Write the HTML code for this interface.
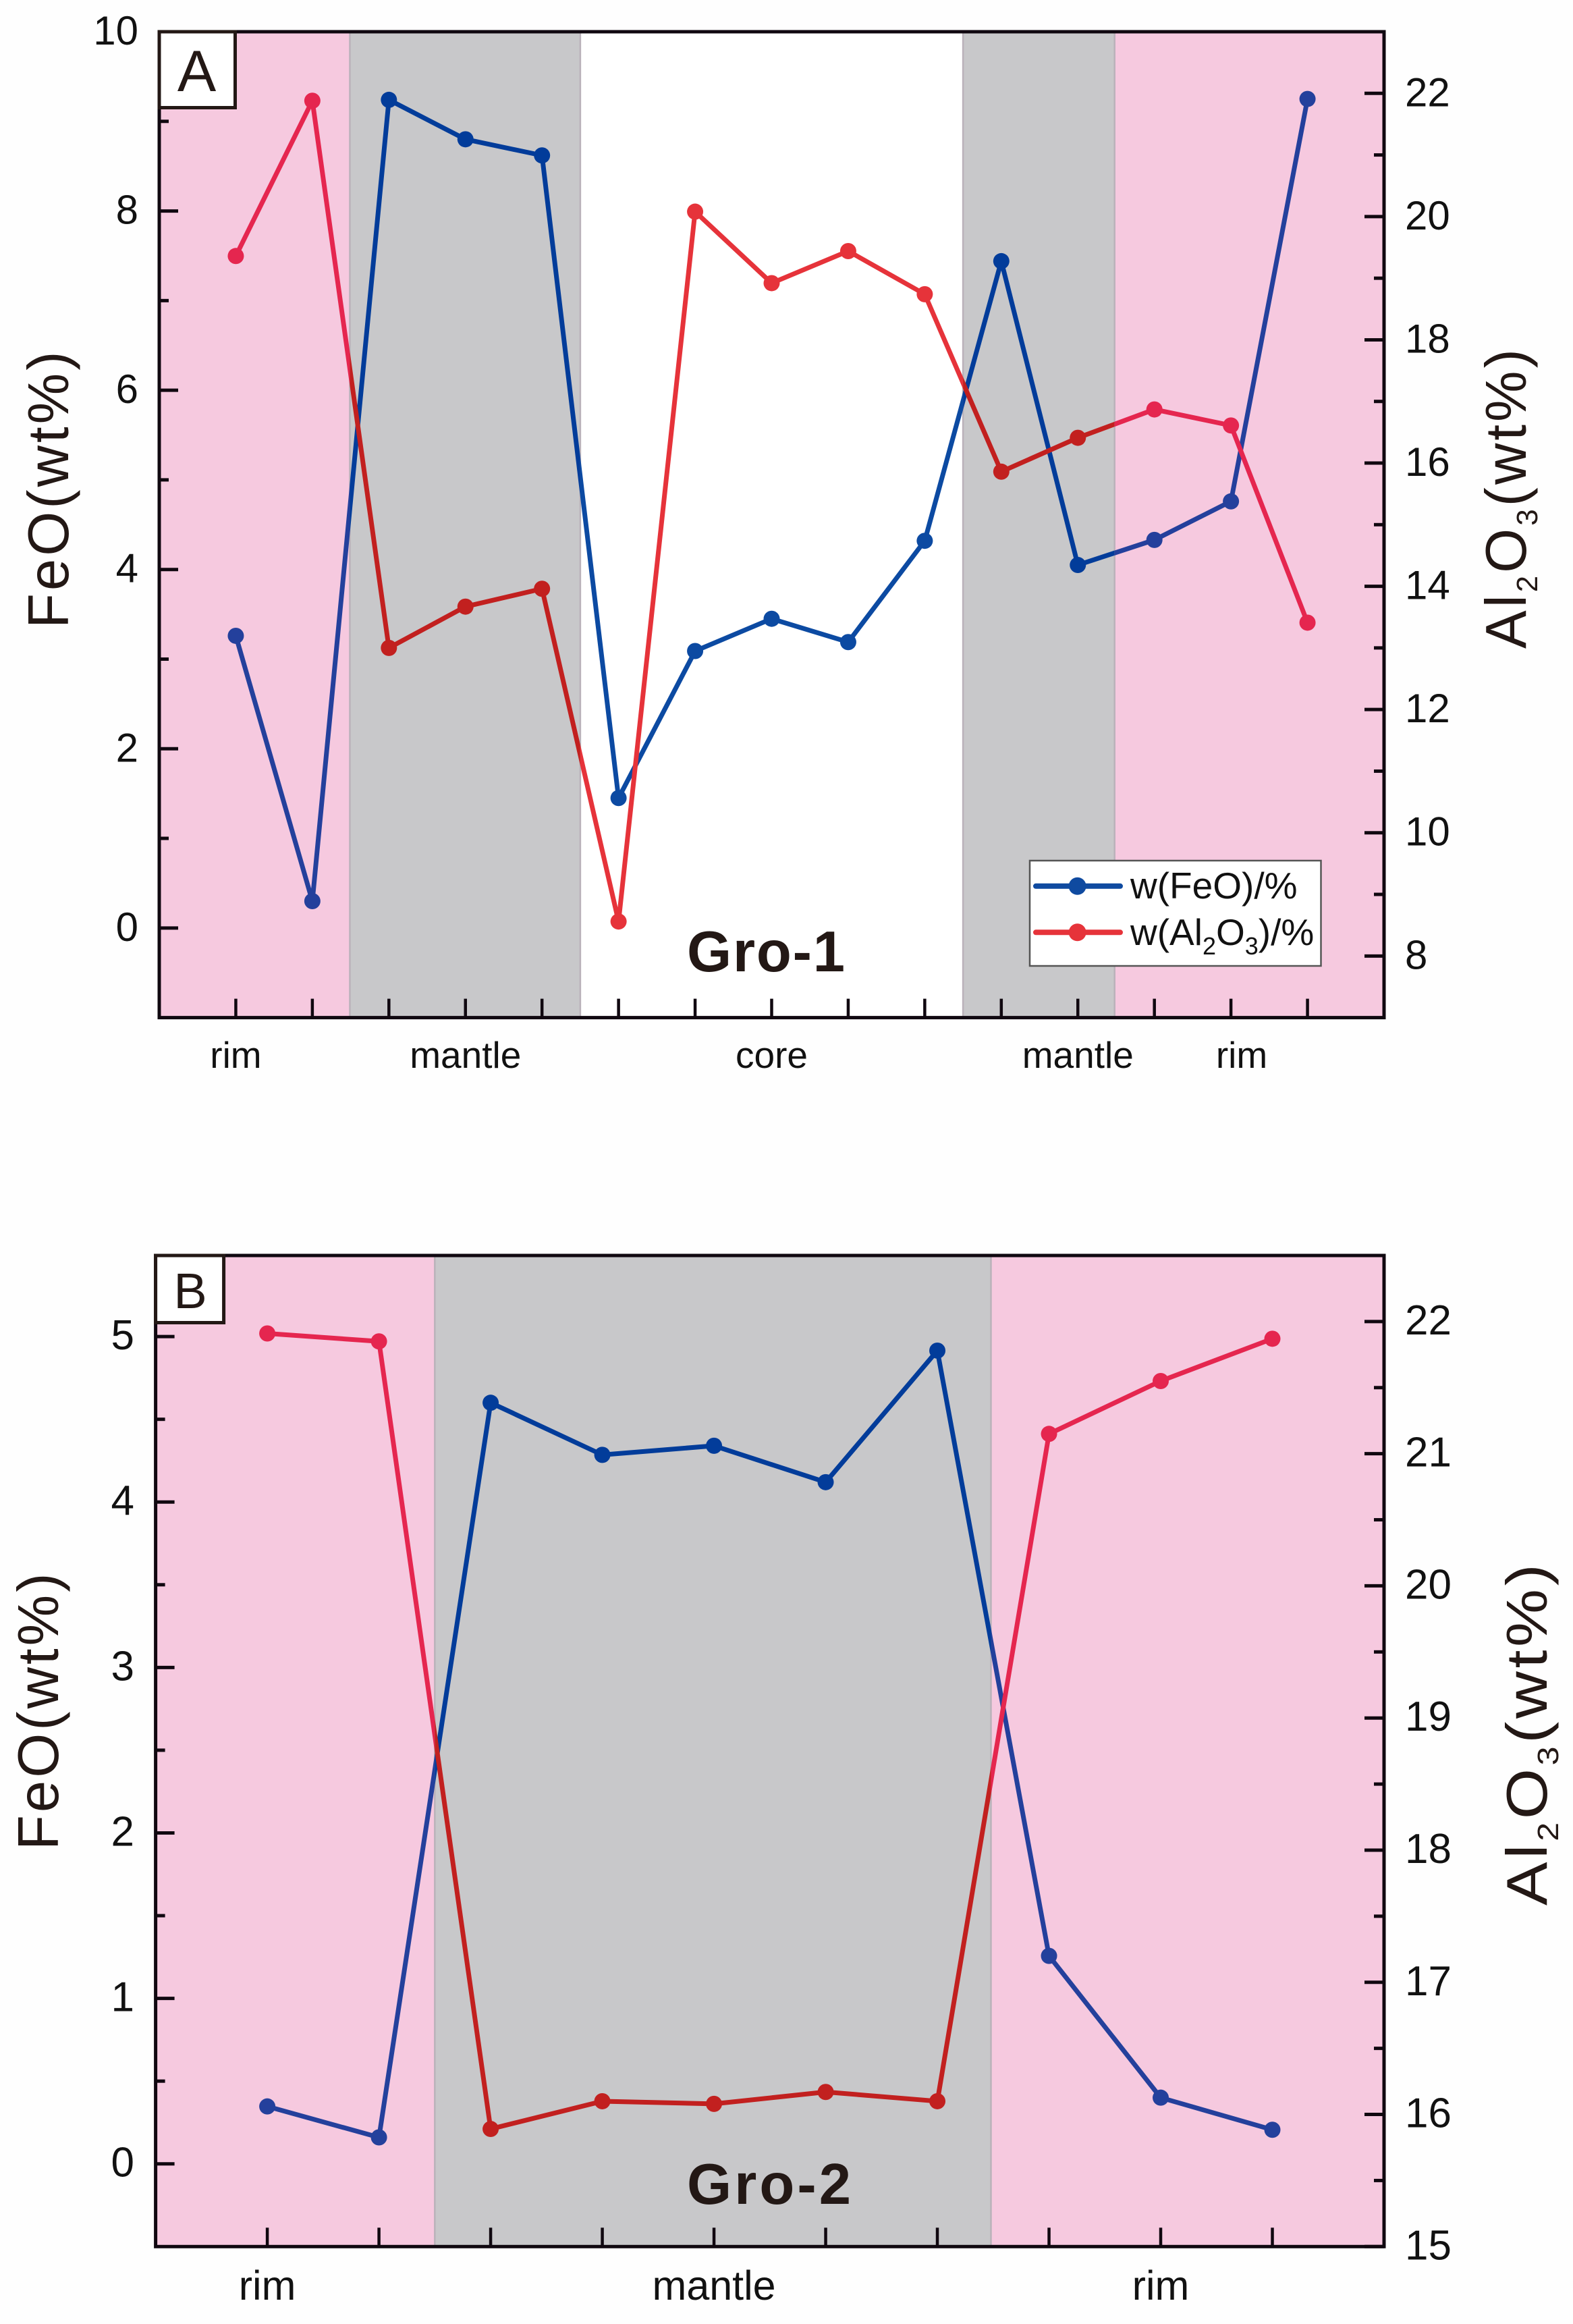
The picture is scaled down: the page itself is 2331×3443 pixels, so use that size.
<!DOCTYPE html>
<html lang="en">
<head>
<meta charset="utf-8">
<title>FeO and Al2O3 profiles of Gro-1 and Gro-2</title>
<style>
html,body{margin:0;padding:0;background:#fefefe;}
svg{display:block;font-family:"Liberation Sans",sans-serif;}
</style>
</head>
<body>
<svg id="chart" xmlns="http://www.w3.org/2000/svg" width="2331" height="3443" viewBox="0 0 2331 3443">
  <rect x="0" y="0" width="2331" height="3443" fill="#fefefe"/>
  <defs id="clips"></defs>
  <g id="panel-a"></g>
  <g id="panel-b"></g>

  <g>
    <rect x="236" y="47" width="112.5" height="112.5" fill="#ffffff" stroke="#231815" stroke-width="5"/>
    <text x="291.5" y="135" font-size="86" text-anchor="middle" fill="#231815">A</text>
  </g>
  <g>
    <rect x="230.6" y="1860" width="101" height="99.5" fill="#ffffff" stroke="#231815" stroke-width="5"/>
    <text x="282" y="1938" font-size="74" text-anchor="middle" fill="#231815">B</text>
  </g>

  <text transform="translate(101,931) rotate(-90)" font-size="85" letter-spacing="4" fill="#231815">FeO(wt%)</text>
  <text transform="translate(2261,961) rotate(-90)" font-size="85" letter-spacing="4" fill="#231815">Al<tspan font-size="44" dy="17">2</tspan><tspan dy="-17">O</tspan><tspan font-size="44" dy="17">3</tspan><tspan dy="-17">(wt%)</tspan></text>
  <text transform="translate(86,2741) rotate(-90)" font-size="85" letter-spacing="4" fill="#231815">FeO(wt%)</text>
  <text transform="translate(2292,2823) rotate(-90) scale(1.14,1)" font-size="85" letter-spacing="4" fill="#231815">Al<tspan font-size="44" dy="17">2</tspan><tspan dy="-17">O</tspan><tspan font-size="44" dy="17">3</tspan><tspan dy="-17">(wt%)</tspan></text>

  <text x="1018" y="1439" font-size="85" font-weight="bold" fill="#231815" textLength="234" lengthAdjust="spacing">Gro-1</text>
  <text x="1018" y="3265" font-size="85" font-weight="bold" fill="#231815" textLength="243" lengthAdjust="spacing">Gro-2</text>

  <g>
    <rect x="1526" y="1275" width="431.5" height="156" fill="#ffffff" stroke="#555555" stroke-width="2.5"/>
    <g>
      <line x1="1535" y1="1312.8" x2="1660" y2="1312.8" stroke="#0f4aa0" stroke-width="8" stroke-linecap="round"/>
      <circle cx="1596.6" cy="1312.8" r="13" fill="#0f4aa0"/>
      <text x="1675" y="1331" font-size="55" fill="#111111">w(FeO)/%</text>
    </g>
    <g>
      <line x1="1535" y1="1381.3" x2="1660" y2="1381.3" stroke="#e6333a" stroke-width="8" stroke-linecap="round"/>
      <circle cx="1596.6" cy="1381.3" r="13" fill="#e6333a"/>
      <text x="1675" y="1400" font-size="55" fill="#111111">w(Al<tspan font-size="36" dy="14">2</tspan><tspan dy="-14">O</tspan><tspan font-size="36" dy="14">3</tspan><tspan dy="-14">)/%</tspan></text>
    </g>
  </g>
</svg>

<script>
// ---- Panel A data ----
const feoA = [3.26, 0.30, 9.24, 8.80, 8.62, 1.45, 3.09, 3.45, 3.19, 4.32, 7.44, 4.05, 4.33, 4.76, 9.25];
const al2o3A = [19.36, 21.88, 13.00, 13.67, 13.96, 8.56, 20.08, 18.92, 19.44, 18.74, 15.86, 16.41, 16.87, 16.61, 13.41];
const bandEdgesA = [0, 2.49, 5.5, 10.5, 12.48, 16];
const bandKindsA = ['pink', 'gray', 'white', 'gray', 'pink'];
const regionLabelsA = ['rim', 'mantle', 'core', 'mantle', 'rim'];
const regionPositionsA = [1, 4, 8, 12, 14.14];
const leftMajorA = [0, 2, 4, 6, 8, 10];
const leftMinorA = [1, 3, 5, 7, 9];
const rightMajorA = [8, 10, 12, 14, 16, 18, 20, 22];
const rightMinorA = [9, 11, 13, 15, 17, 19, 21];

// ---- Panel B data ----
const feoB = [0.347, 0.16, 4.60, 4.285, 4.34, 4.12, 4.915, 1.257, 0.40, 0.206];
const al2o3B = [21.91, 21.85, 15.89, 16.10, 16.08, 16.17, 16.10, 21.15, 21.55, 21.87];
const bandEdgesB = [0, 2.5, 7.48, 11];
const bandKindsB = ['pink', 'gray', 'pink'];
const regionLabelsB = ['rim', 'mantle', 'rim'];
const regionPositionsB = [1, 5, 9];
const leftMajorB = [0, 1, 2, 3, 4, 5];
const leftMinorB = [0.5, 1.5, 2.5, 3.5, 4.5];
const rightMajorB = [15, 16, 17, 18, 19, 20, 21, 22];
const rightMinorB = [15.5, 16.5, 17.5, 18.5, 19.5, 20.5, 21.5];

// ---- Styling ----
const bandFill = { pink: '#f6c9df', gray: '#c8c8ca', white: '#ffffff' };
const feoColor = { pink: '#24409c', gray: '#023c9a', white: '#0c4aa2' };
const al2o3Color = { pink: '#e5264f', gray: '#c2201f', white: '#e6333a' };
const axisColor = '#100810';
const SVGNS = 'http://www.w3.org/2000/svg';

function linear(d0, d1, r0, r1) {
  return function (v) { return r0 + (v - d0) * (r1 - r0) / (d1 - d0); };
}
function make(tag, props, parent) {
  const node = document.createElementNS(SVGNS, tag);
  Object.keys(props).forEach(function (k) { node.setAttribute(k, props[k]); });
  parent.appendChild(node);
  return node;
}

function drawSeries(p, group, values, colors, scaleY, seriesName) {
  const pts = values.map(function (v, i) { return p.x(i + 1) + ',' + scaleY(v); }).join(' ');
  p.bandKinds.forEach(function (kind, b) {
    const g = make('g', { 'clip-path': 'url(#' + p.id + '-clip-' + b + ')' }, group);
    
    
    const line = make('polyline', { points: pts, fill: 'none', stroke: colors[kind], 'stroke-width': 7, 'stroke-linejoin': 'round' }, g);
    
    
    values.forEach(function (v, i) {
      const dot = make('circle', { cx: p.x(i + 1), cy: scaleY(v), r: 12, fill: colors[kind] }, g);
      
      
    });
  });
}

function drawPanel(p) {
  const root = document.getElementById(p.id);
  const defs = document.getElementById('clips');
  const L = p.left, R = p.right, T = p.top, B = p.bottom;

  // bands
  p.bandKinds.forEach(function (kind, b) {
    const x0 = p.x(p.bandEdges[b]), x1 = p.x(p.bandEdges[b + 1]);
    const band = make('rect', { x: x0, y: T, width: x1 - x0, height: B - T, fill: bandFill[kind] }, root);
    
    
    const clip = make('clipPath', { id: p.id + '-clip-' + b }, defs);
    make('rect', { x: x0, y: T, width: x1 - x0, height: B - T }, clip);
    if (b > 0) {
      const edge = make('line', { x1: x0, y1: T, x2: x0, y2: B, stroke: '#bab2ba', 'stroke-width': 2.5 }, root);
      
      
    }
  });

  // series
  const feoGroup = make('g', {}, root);
  
  
  drawSeries(p, feoGroup, p.feo, feoColor, p.yLeft, 'feo');
  const alGroup = make('g', {}, root);
  
  
  drawSeries(p, alGroup, p.al2o3, al2o3Color, p.yRight, 'al2o3');

  // left axis ticks
  p.leftMajor.forEach(function (v) {
    const y = p.yLeft(v);
    const t = make('line', { x1: L, y1: y, x2: L + 28, y2: y, stroke: axisColor, 'stroke-width': 5 }, root);
    
    
    const lab = make('text', { x: p.leftLabelX, y: y + 19, 'font-size': p.tickFont, 'text-anchor': 'end', fill: '#111111' }, root);
    lab.textContent = String(v);
    
    
  });
  p.leftMinor.forEach(function (v) {
    const y = p.yLeft(v);
    const t = make('line', { x1: L, y1: y, x2: L + 14, y2: y, stroke: axisColor, 'stroke-width': 5 }, root);
    
    
  });

  // right axis ticks
  p.rightMajor.forEach(function (v) {
    const y = p.yRight(v);
    const t = make('line', { x1: R, y1: y, x2: R - 29, y2: y, stroke: axisColor, 'stroke-width': 5 }, root);
    
    
    const lab = make('text', { x: 2082, y: y + 19, 'font-size': p.tickFont, fill: '#111111' }, root);
    lab.textContent = String(v);
    
    
  });
  p.rightMinor.forEach(function (v) {
    const y = p.yRight(v);
    const t = make('line', { x1: R, y1: y, x2: R - 15, y2: y, stroke: axisColor, 'stroke-width': 5 }, root);
    
    
  });

  // x ticks
  p.feo.forEach(function (v, i) {
    const x = p.x(i + 1);
    const t = make('line', { x1: x, y1: B, x2: x, y2: B - 28, stroke: axisColor, 'stroke-width': 4.5 }, root);
    
    
  });

  // region labels
  p.regionLabels.forEach(function (name, i) {
    const lab = make('text', { x: p.x(p.regionPositions[i]), y: p.regionBaseline, 'font-size': p.regionFont, 'text-anchor': 'middle', fill: '#111111' }, root);
    lab.textContent = name;
    
    
  });

  // frame
  const frame = make('rect', { x: L, y: T, width: R - L, height: B - T, fill: 'none', stroke: axisColor, 'stroke-width': 5 }, root);
  
  
}

drawPanel({
  id: 'panel-a', left: 236, right: 2051, top: 47, bottom: 1507.6,
  x: linear(0, 16, 236, 2051),
  yLeft: linear(-1, 10, 1507.6, 47),
  yRight: linear(7, 23, 1507.6, 47),
  feo: feoA, al2o3: al2o3A,
  bandEdges: bandEdgesA, bandKinds: bandKindsA,
  regionLabels: regionLabelsA, regionPositions: regionPositionsA,
  leftMajor: leftMajorA, leftMinor: leftMinorA,
  rightMajor: rightMajorA, rightMinor: rightMinorA,
  leftLabelX: 205, tickFont: 60, regionFont: 55, regionBaseline: 1582
});
drawPanel({
  id: 'panel-b', left: 230.6, right: 2051, top: 1860, bottom: 3328.3,
  x: linear(0, 11, 230.6, 2051),
  yLeft: linear(-0.5, 5.49, 3328.3, 1860),
  yRight: linear(15, 22.5, 3328.3, 1860),
  feo: feoB, al2o3: al2o3B,
  bandEdges: bandEdgesB, bandKinds: bandKindsB,
  regionLabels: regionLabelsB, regionPositions: regionPositionsB,
  leftMajor: leftMajorB, leftMinor: leftMinorB,
  rightMajor: rightMajorB, rightMinor: rightMinorB,
  leftLabelX: 199, tickFont: 62, regionFont: 61, regionBaseline: 3407
});
</script>
</body>
</html>
